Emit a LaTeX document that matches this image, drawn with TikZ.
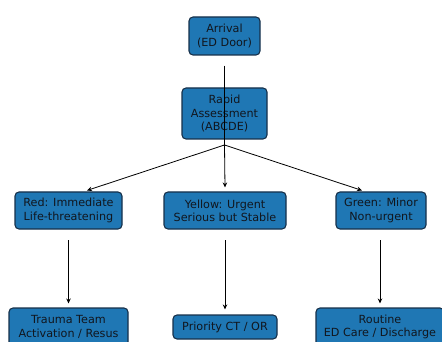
\documentclass[tikz,border=0pt]{standalone}
\usepackage{fontspec}
\setmainfont{DejaVu Sans}
\usetikzlibrary{arrows.meta}
\definecolor{boxfill}{RGB}{31,119,180}
\definecolor{boxedge}{RGB}{22,48,74}
\definecolor{txt}{RGB}{17,22,30}
\tikzset{
  flowbox/.style={draw=boxedge, line width=1.1pt, fill=boxfill, rounded corners=4pt,
    text=txt, align=center, inner sep=0pt,
    font=\fontsize{11.2}{13.2}\selectfont},
  conn/.style={draw=black, line width=0.8pt},
  arr/.style={conn, -{Stealth[length=5pt,width=4.5pt]}}
}
\begin{document}
\begin{tikzpicture}[x=1pt,y=-1pt]
\useasboundingbox (0,0) rectangle (442,342);
\node[flowbox, minimum width=71pt, minimum height=38pt] (arrival) at (224.5,36) {Arrival\\(ED Door)};
\node[flowbox, minimum width=85pt, minimum height=51pt] (rapid) at (224.5,113.5) {Rapid\\Assessment\\(ABCDE)};
\node[flowbox, minimum width=107pt, minimum height=37pt] (red) at (68.5,210.5) {Red: Immediate\\Life-threatening};
\node[flowbox, minimum width=122pt, minimum height=37pt] (yellow) at (225,210.5) {Yellow: Urgent\\Serious but Stable};
\node[flowbox, minimum width=90pt, minimum height=37pt] (green) at (381,210.5) {Green: Minor\\Non-urgent};
\node[flowbox, minimum width=119pt, minimum height=38pt] (trauma) at (68.5,327) {Trauma Team\\Activation / Resus};
\node[flowbox, minimum width=104pt, minimum height=24pt] (priority) at (225,327) {Priority CT / OR};
\node[flowbox, minimum width=128pt, minimum height=38pt] (routine) at (380,327) {Routine\\ED Care / Discharge};
\coordinate (j) at (224.5,145);
\draw[conn] ([yshift=-10pt]arrival.south) -- (j);
\draw[arr] (j) -- ([xshift=18.5pt,yshift=1pt]red.north);
\draw[arr] (j) -- ([yshift=4pt]yellow.north);
\draw[arr] (j) -- ([xshift=-19pt,yshift=1pt]green.north);
\draw[arr] ([yshift=-10.5pt]red.south) -- ([yshift=4pt]trauma.north);
\draw[arr] ([yshift=-10.5pt]yellow.south) -- ([yshift=5pt]priority.north);
\draw[arr] ([xshift=-1pt,yshift=-10.5pt]green.south) -- ([yshift=4pt]routine.north);
\end{tikzpicture}
\end{document}
